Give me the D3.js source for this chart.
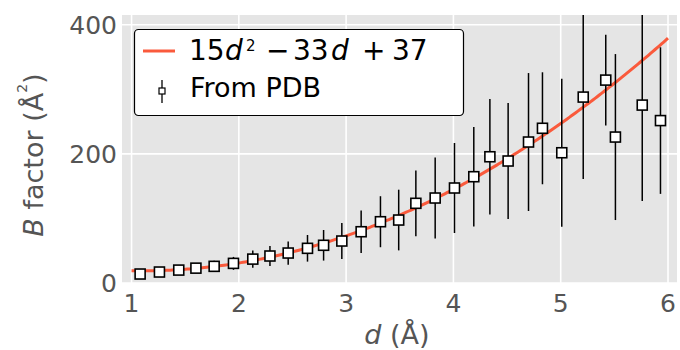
<!DOCTYPE html>
<html>
<head>
<meta charset="utf-8">
<script src="https://cdn.jsdelivr.net/npm/d3@7"></script>
<style>
  body { margin: 0; background: #fff; }
  text { font-family: "DejaVu Sans", sans-serif; }
</style>
</head>
<body>
<div id="chart"></div>
<script>
// resolution d (Å) of each bin
const dVals = [1.08, 1.26, 1.44, 1.60, 1.77, 1.95, 2.13, 2.29, 2.46, 2.64, 2.79, 2.96,
  3.14, 3.32, 3.49, 3.65, 3.83, 4.01, 4.19, 4.34, 4.51, 4.70, 4.83, 5.01,
  5.21, 5.42, 5.51, 5.76, 5.93];
// mean B factor from PDB
const bVals = [13.9, 17, 20, 23, 25.8, 30.4, 37, 41.8, 46.4, 53.7, 58.4, 65,
  79.4, 94.9, 97.5, 123.4, 131.6, 147.1, 164.6, 195.5, 188.9, 218.3, 239.6, 201.7,
  287.9, 314.2, 226, 275.5, 251.5];
// std dev (error bars)
const bErr = [3, 4, 5, 6, 8.8, 10, 13.5, 15.5, 18, 20.6, 23.7, 28,
  33, 39.5, 47, 51, 62.7, 69.7, 77, 89.3, 89.8, 106.8, 86.7, 114.6,
  127, 70.4, 128.5, 148.6, 113.5];
// fit 15d^2 - 33d + 37, drawn over d = 1..6
const fitCoef = [15, -33, 37];
const fitRange = [1.0, 6.0];
const xTicks = [1, 2, 3, 4, 5, 6];
const yTicks = [0, 200, 400];

const width = 680, height = 350;
const pLeft = 122, pRight = 677, pTop = 15, pBottom = 283;
const grey = "#555555";
const red = "#fa5a3c";

const x = d3.scaleLinear().domain([0.911, 6.084]).range([pLeft, pRight]);
const y = d3.scaleLinear().domain([0, 415]).range([pBottom, pTop]);

const svg = d3.select("#chart").append("svg")
  .attr("width", width)
  .attr("height", height);

svg.append("defs").append("clipPath").attr("id", "plotclip")
  .append("rect")
  .attr("x", pLeft).attr("y", pTop)
  .attr("width", pRight - pLeft).attr("height", pBottom - pTop);

// panel background
svg.append("rect")
  .attr("x", pLeft).attr("y", pTop)
  .attr("width", pRight - pLeft).attr("height", pBottom - pTop)
  .attr("fill", "#e5e5e5");

const plot = svg.append("g").attr("clip-path", "url(#plotclip)");

// grid
plot.selectAll(".vgrid").data(xTicks).enter().append("line")
  .attr("x1", d => x(d)).attr("x2", d => x(d))
  .attr("y1", pTop).attr("y2", pBottom)
  .attr("stroke", "#fff").attr("stroke-width", 1.6);
plot.selectAll(".hgrid").data(yTicks).enter().append("line")
  .attr("x1", pLeft).attr("x2", pRight)
  .attr("y1", d => y(d)).attr("y2", d => y(d))
  .attr("stroke", "#fff").attr("stroke-width", 1.6);

// fitted curve
const fitPts = d3.range(fitRange[0], fitRange[1] + 0.0001, 0.02)
  .map(d => [d, fitCoef[0] * d * d + fitCoef[1] * d + fitCoef[2]]);
plot.append("path")
  .datum(fitPts)
  .attr("d", d3.line().x(d => x(d[0])).y(d => y(d[1])))
  .attr("fill", "none")
  .attr("stroke", red)
  .attr("stroke-width", 3);

const pts = dVals.map((d, i) => ({d: d, b: bVals[i], e: bErr[i]}));

// error bars
plot.selectAll(".err").data(pts).enter().append("line")
  .attr("x1", p => x(p.d)).attr("x2", p => x(p.d))
  .attr("y1", p => y(p.b - p.e)).attr("y2", p => y(p.b + p.e))
  .attr("stroke", "#000").attr("stroke-width", 1.5);

// markers
plot.selectAll(".mk").data(pts).enter().append("rect")
  .attr("x", p => x(p.d) - 5).attr("y", p => y(p.b) - 5)
  .attr("width", 10).attr("height", 10)
  .attr("fill", "#fff").attr("stroke", "#000").attr("stroke-width", 1.6);

// tick labels
svg.selectAll(".xt").data(xTicks).enter().append("text")
  .attr("x", d => x(d)).attr("y", 312)
  .attr("text-anchor", "middle")
  .attr("font-size", 25).attr("fill", grey)
  .text(d => d);
svg.selectAll(".yt").data(yTicks).enter().append("text")
  .attr("x", 117).attr("y", d => y(d) + 9)
  .attr("text-anchor", "end")
  .attr("font-size", 25).attr("fill", grey)
  .text(d => d);

// axis titles
const xl = svg.append("text")
  .attr("x", 397).attr("y", 344)
  .attr("text-anchor", "middle")
  .attr("font-size", 27).attr("fill", grey);
xl.append("tspan").attr("font-style", "italic").text("d");
xl.append("tspan").text(" (Å)");

const yl = svg.append("text")
  .attr("transform", "translate(43,155) rotate(-90)")
  .attr("text-anchor", "middle")
  .attr("font-size", 27).attr("fill", grey);
yl.append("tspan").attr("font-style", "italic").text("B");
yl.append("tspan").text(" factor (Å");
yl.append("tspan").attr("font-size", 14).attr("dy", -16).text("2");
yl.append("tspan").attr("dy", 16).text(")");

// legend
const lg = svg.append("g");
lg.append("rect")
  .attr("x", 134.5).attr("y", 29.5)
  .attr("width", 329).attr("height", 86)
  .attr("rx", 4)
  .attr("fill", "#fff").attr("stroke", "#000").attr("stroke-width", 1.2);
lg.append("line")
  .attr("x1", 143).attr("x2", 175).attr("y1", 51).attr("y2", 51)
  .attr("stroke", red).attr("stroke-width", 3);
const lt = lg.append("text")
  .attr("y", 60)
  .attr("font-size", 28).attr("fill", "#000");
lt.append("tspan").attr("x", 189).text("15");
lt.append("tspan").attr("x", 225).attr("font-style", "italic").text("d");
lt.append("tspan").attr("x", 246).attr("font-size", 15).attr("dy", -9).text("2");
lt.append("tspan").attr("x", 266).attr("dy", 9).text("−");
lt.append("tspan").attr("x", 293).text("33");
lt.append("tspan").attr("x", 331).attr("font-style", "italic").text("d");
lt.append("tspan").attr("x", 362).text("+");
lt.append("tspan").attr("x", 392).text("37");

lg.append("line")
  .attr("x1", 162).attr("x2", 162).attr("y1", 80).attr("y2", 103)
  .attr("stroke", "#000").attr("stroke-width", 1.3);
lg.append("rect")
  .attr("x", 159).attr("y", 88).attr("width", 6).attr("height", 6)
  .attr("fill", "#fff").attr("stroke", "#000").attr("stroke-width", 1.2);
lg.append("text")
  .attr("x", 190).attr("y", 97)
  .attr("font-size", 27).attr("fill", "#000")
  .text("From PDB");
</script>
</body>
</html>
